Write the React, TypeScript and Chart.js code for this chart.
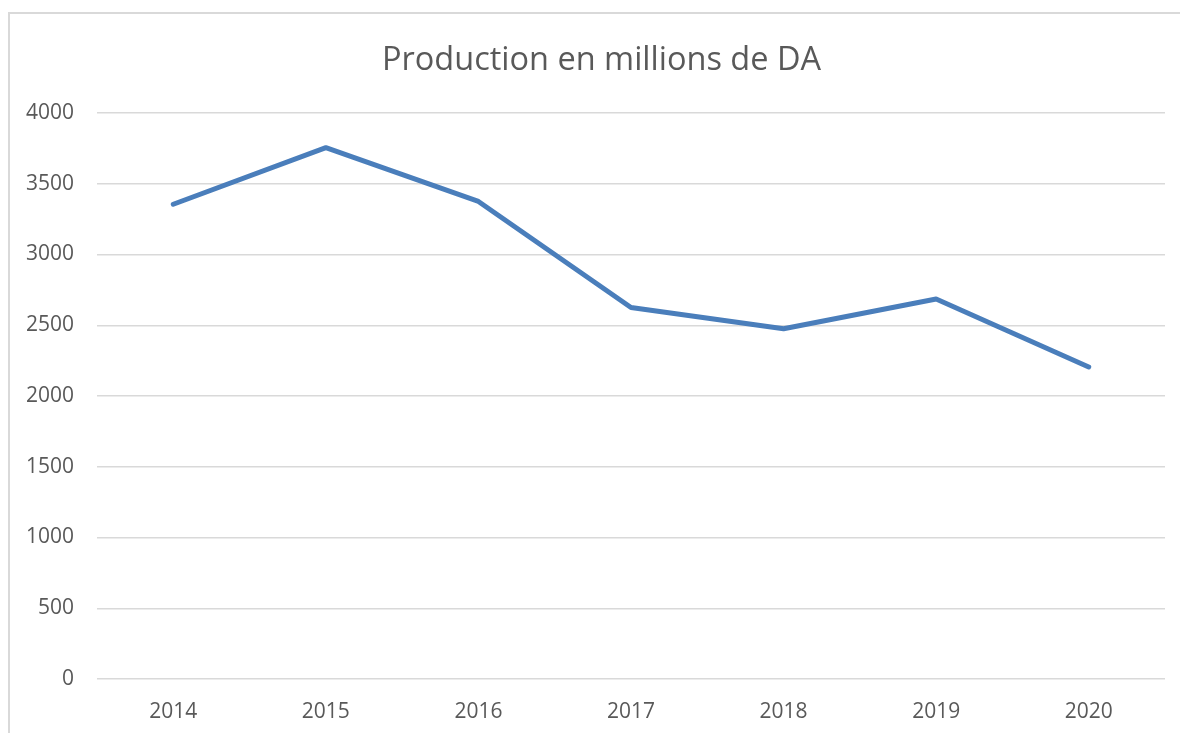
import React, { useEffect, useRef } from "react";
import { Chart, registerables } from "chart.js";

Chart.register(...registerables);

const years = ["2014", "2015", "2016", "2017", "2018", "2019", "2020"];
const production = [3355, 3755, 3375, 2625, 2475, 2685, 2205];
const chartTitle = "Production en millions de DA";

const unclipYLabels = {
  id: "unclipYLabels",
  afterLayout(chart: any) {
    const y = chart.scales.y;
    if (y) y.left = 0;
  },
};

export default function App() {
  const ref = useRef<HTMLCanvasElement | null>(null);

  useEffect(() => {
    document.body.style.overflow = "hidden";
    const ctx = ref.current!;
    const chart = new Chart(ctx, {
      type: "line",
      data: {
        labels: years,
        datasets: [
          {
            label: chartTitle,
            data: production,
            borderColor: "#4a7ebb",
            backgroundColor: "#4a7ebb",
            borderWidth: 5,
            pointRadius: 0,
            tension: 0,
            borderCapStyle: "round",
            borderJoinStyle: "round",
          },
        ],
      },
      options: {
        animation: false,
        responsive: false,
        maintainAspectRatio: false,
        layout: { padding: { left: 38, right: 15, top: 0, bottom: 0 } },
        plugins: {
          legend: { display: false },
          tooltip: { enabled: false },
          title: {
            display: true,
            text: chartTitle,
            color: "#595959",
            font: { family: "'Open Sans'", size: 32.5, weight: "normal" },
            padding: { top: 41, bottom: 33 },
          },
        },
        scales: {
          x: {
            offset: true,
            grid: { display: false, drawTicks: false },
            border: { display: false },
            ticks: {
              color: "#595959",
              font: { family: "'Open Sans'", size: 21 },
              padding: 20,
              maxRotation: 0,
            },
            afterFit: (s: any) => {
              s.height = 54;
            },
          },
          y: {
            min: 0,
            max: 4000,
            grid: { color: "#d9d9d9", lineWidth: 1.5, drawTicks: false },
            border: { display: false },
            ticks: {
              stepSize: 500,
              color: "#595959",
              font: { family: "'Open Sans'", size: 21 },
              padding: 23,
              callback: (v: any) => String(v),
            },
            afterFit: (s: any) => {
              s.width = 59;
            },
          },
        },
      },
      plugins: [unclipYLabels],
    });
    return () => chart.destroy();
  }, []);

  return (
    <div style={{ position: "fixed", left: 0, top: 0, width: 1180, height: 733, background: "#fff" }}>
      <div
        style={{
          position: "absolute",
          left: 8,
          top: 12,
          width: 1300,
          height: 900,
          border: "2px solid #d9d9d9",
          boxSizing: "border-box",
        }}
      />
      <canvas ref={ref} width={1180} height={733} style={{ position: "absolute", left: 0, top: 0 }} />
    </div>
  );
}
